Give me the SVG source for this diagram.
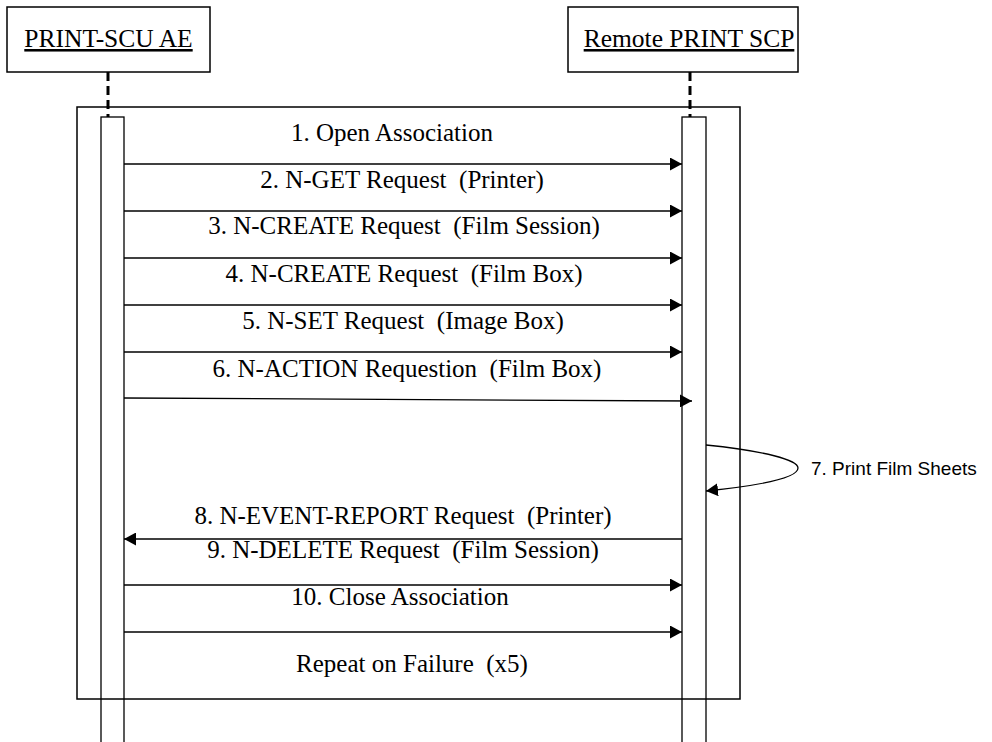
<svg xmlns="http://www.w3.org/2000/svg" width="992" height="742" viewBox="0 0 992 742">
<defs>
<style>
.box{fill:#fff;stroke:#000;stroke-width:1.5}
.frame{fill:none;stroke:#000;stroke-width:1.5}
.bar{fill:#fff;stroke:#000;stroke-width:1.3}
.life{stroke:#000;stroke-width:3;stroke-dasharray:9,5;fill:none}
.msg{stroke:#000;stroke-width:1.3;fill:none}
.lbl{font-family:"Liberation Serif","Times New Roman",serif;font-size:25px;fill:#000;text-anchor:middle;white-space:pre}
.hdr{font-family:"Liberation Serif","Times New Roman",serif;font-size:25.5px;fill:#000;text-anchor:middle;text-decoration:underline}
.note{font-family:"Liberation Sans",Arial,sans-serif;font-size:19px;fill:#000}
</style>
<marker id="ah" viewBox="0 0 12 13" refX="12" refY="6.5" markerWidth="12" markerHeight="13" markerUnits="userSpaceOnUse" orient="auto">
<path d="M0,0 L12,6.5 L0,13 Z" fill="#000"/>
</marker>
</defs>
<rect width="992" height="742" fill="#fff"/>
<g id="scu">
<rect x="7" y="7" width="203" height="65" class="box"/>
<text x="108.5" y="47" class="hdr">PRINT-SCU AE</text>
<line x1="108" y1="72" x2="108" y2="117" class="life"/>
<rect x="101" y="117" width="23" height="630" class="bar"/>
</g>
<g id="scp">
<rect x="568" y="7" width="230" height="65" class="box"/>
<text x="689" y="47" class="hdr">Remote PRINT SCP</text>
<line x1="690" y1="72" x2="690" y2="117" class="life"/>
<rect x="682" y="117" width="24" height="630" class="bar"/>
</g>
<g id="frame">
<rect x="77" y="107" width="663" height="592" class="frame"/>
</g>
<g id="connectors">
<line x1="124" y1="164" x2="682" y2="164" class="msg" marker-end="url(#ah)"/>
<line x1="124" y1="211" x2="682" y2="211" class="msg" marker-end="url(#ah)"/>
<line x1="124" y1="258" x2="682" y2="258" class="msg" marker-end="url(#ah)"/>
<line x1="124" y1="305" x2="682" y2="305" class="msg" marker-end="url(#ah)"/>
<line x1="124" y1="352" x2="682" y2="352" class="msg" marker-end="url(#ah)"/>
<line x1="124" y1="398" x2="692" y2="401" class="msg" marker-end="url(#ah)"/>
<path d="M706,445 C765,451 798,460 798,468 C798,477 765,485 706,491" class="msg" marker-end="url(#ah)"/>
<line x1="682" y1="539" x2="124" y2="539" class="msg" marker-end="url(#ah)"/>
<line x1="124" y1="585" x2="682" y2="585" class="msg" marker-end="url(#ah)"/>
<line x1="124" y1="632" x2="682" y2="632" class="msg" marker-end="url(#ah)"/>
</g>
<g id="labels">
<text x="392" y="141" class="lbl">1. Open Association</text>
<text x="402" y="188" class="lbl">2. N-GET Request  (Printer)</text>
<text x="404" y="234" class="lbl">3. N-CREATE Request  (Film Session)</text>
<text x="404" y="282" class="lbl">4. N-CREATE Request  (Film Box)</text>
<text x="403" y="329" class="lbl">5. N-SET Request  (Image Box)</text>
<text x="407" y="377" class="lbl">6. N-ACTION Requestion  (Film Box)</text>
<text x="811" y="475" class="note">7. Print Film Sheets</text>
<text x="403" y="524" class="lbl">8. N-EVENT-REPORT Request  (Printer)</text>
<text x="403" y="558" class="lbl">9. N-DELETE Request  (Film Session)</text>
<text x="400" y="605" class="lbl">10. Close Association</text>
<text x="412" y="672" class="lbl">Repeat on Failure  (x5)</text>
</g>
</svg>
